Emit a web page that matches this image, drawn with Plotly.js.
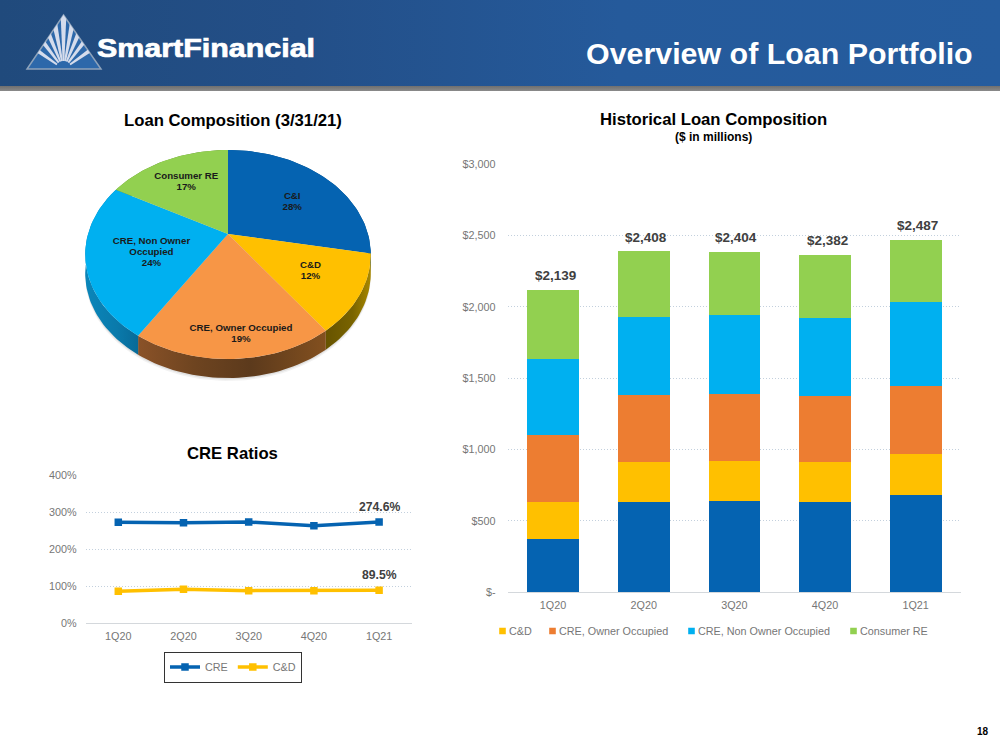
<!DOCTYPE html>
<html><head><meta charset="utf-8">
<script src="https://cdn.plot.ly/plotly-3.0.1.min.js"></script>
<style>
html,body{margin:0;padding:0;background:#fff;overflow:hidden}
#wrap{position:relative;width:1000px;height:750px;font-family:"Liberation Sans",Arial,sans-serif}
#hdr{position:absolute;left:0;top:0;width:1000px;height:86px;background:linear-gradient(90deg,#204a7c 0%,#234f88 30%,#255a9b 62%,#255c9e 100%)}
#bar{position:absolute;left:0;top:86px;width:1000px;height:5px;background:linear-gradient(180deg,#6f6f6f,#8a8a8a)}
#logo{position:absolute;left:0;top:0}
#brand{position:absolute;left:97px;top:32.5px;color:#fff;font:bold 26px "Liberation Sans",Arial,sans-serif;-webkit-text-stroke:.7px #fff;transform-origin:0 0;white-space:nowrap}
#chart{position:absolute;left:0;top:0}
</style></head><body>
<div id="wrap">
<div id="hdr"></div><div id="bar"></div>
<svg id="logo" width="130" height="86">
<defs><clipPath id="tri"><path d="M63.5,15 L101,69 L27,69 Z"/></clipPath></defs>
<path d="M63.5,15 L101,69 L27,69 Z" fill="#2d68aa" stroke="#8ea3bb" stroke-width="1.5"/>
<g clip-path="url(#tri)" fill="#d5dcec" id="rays"></g>
</svg>
<div id="brand">SmartFinancial</div>
<div id="chart"></div>
</div>
<script>
// ---------- data ----------
var pieLabels = ['C&I','C&D','CRE, Owner Occupied','CRE, Non Owner<br>Occupied','Consumer RE'];
var pieValues = [28,12,19,24,17];
var pieColors = ['#0563B1','#FFC000','#F79646','#00B0F0','#92D050'];
var pieWallColors = [
  [[0,'#004a80'],[1,'#004a80']],
  [[0,'#665300'],[0.6,'#7a6400'],[1,'#a88800']],
  [[0,'#8a5228'],[0.3,'#6e4420'],[0.6,'#5c3a1c'],[1,'#83501f']],
  [[0,'#0a86ba'],[0.6,'#0a7aab'],[1,'#086a98']],
  [[0,'#5f8a30'],[1,'#5f8a30']]
];
var pieLabelRadius = [0.59,0.65,0.84,0.56,0.65];
var pieLabelTurn = [5.5,0,-3.5,-5.6,0];

var quarters = ['1Q20','2Q20','3Q20','4Q20','1Q21'];
var candI    = [374,633,640,633,682];
var candD    = [258,280,279,279,287];
var creOwner = [470,468,469,462,476];
var creNon   = [531,547,553,546,588];
var consumer = [486,464,446,446,438];
var totalLabels = ['$2,139','$2,408','$2,404','$2,382','$2,487'];

var creRatio = [273.6,272.7,274.5,264.6,274.6];
var cdRatio  = [86.7,92,88.5,88.5,89.5];
var ratioLabels = ['274.6%','89.5%'];

var FONT = '"Liberation Sans",Arial,sans-serif';
var GRID = '#c3d0dd', TICK = '#767676', AXIS = '#d4d8dc';
function px(x){return x/1000;}
function py(y){return 1-y/750;}

// ---------- logo rays ----------
var raysG = document.getElementById('rays');
[0,-11,11,-23,23,-37,37,-55,55].forEach(function(d){
  var a = d*Math.PI/180, s=Math.sin(a), c=Math.cos(a), w0=0.9, w1=3.2, L=62;
  var bx=63.5+s*8, by=69-c*8;
  var tx=63.5+s*L, ty=69-c*L;
  var p=document.createElementNS('http://www.w3.org/2000/svg','path');
  p.setAttribute('d','M'+(bx-c*w0)+','+(by-s*w0)+' L'+(tx-c*w1)+','+(ty-s*w1)+' L'+(tx+c*w1)+','+(ty+s*w1)+' L'+(bx+c*w0)+','+(by+s*w0)+' Z');
  raysG.appendChild(p);
});

// ---------- pie geometry: circle seen in perspective, from the values ----------
var PERSP=0.196, FLAT=100.5/140, DEPTH=19/140;
function proj(t,r){
  var X=r*Math.sin(t), Y=r*Math.cos(t), d=1+PERSP*Y;
  return [X/d, FLAT*Y/d];
}
var total=pieValues.reduce(function(a,b){return a+b;},0);
var starts=[],acc=0;
pieValues.forEach(function(v){starts.push(acc/total*2*Math.PI);acc+=v;});
starts.push(2*Math.PI);
function arc(t0,t1){var n=Math.max(6,Math.round((t1-t0)/0.03)),o=[];for(var i=0;i<=n;i++)o.push(proj(t0+(t1-t0)*i/n,1));return o;}

var traces=[];
var full=arc(0,2*Math.PI);
// soft shadow
[[DEPTH+3/140,'rgba(0,0,0,0.05)'],[DEPTH+1.5/140,'rgba(0,0,0,0.07)']].forEach(function(s){
  traces.push({type:'scatter',mode:'lines',xaxis:'x3',yaxis:'y3',x:full.map(function(p){return p[0];}),y:full.map(function(p){return p[1]-s[0];}),
    fill:'toself',fillcolor:s[1],line:{width:0},hoverinfo:'skip',showlegend:false});
});
// walls
pieValues.forEach(function(v,i){
  var rim=arc(starts[i],starts[i+1]);
  var xs=rim.map(function(p){return p[0];}), ys=rim.map(function(p){return p[1];});
  var rx=xs.slice().reverse(), ry=ys.slice().reverse().map(function(y){return y-DEPTH;});
  traces.push({type:'scatter',mode:'lines',xaxis:'x3',yaxis:'y3',x:xs.concat(rx),y:ys.concat(ry),fill:'toself',
    fillgradient:{type:'horizontal',colorscale:pieWallColors[i]},line:{width:0},hoverinfo:'skip',showlegend:false});
});
// top faces
pieValues.forEach(function(v,i){
  var rim=arc(starts[i],starts[i+1]);
  traces.push({type:'scatter',mode:'lines',xaxis:'x3',yaxis:'y3',
    x:[0].concat(rim.map(function(p){return p[0];}),[0]),y:[0].concat(rim.map(function(p){return p[1];}),[0]),
    fill:'toself',fillcolor:pieColors[i],line:{width:0},name:pieLabels[i],hoverinfo:'name',showlegend:false});
});
// slice labels
var lp=pieValues.map(function(v,i){return proj((starts[i]+starts[i+1])/2+pieLabelTurn[i]*Math.PI/180,pieLabelRadius[i]);});
traces.push({type:'scatter',mode:'text',xaxis:'x3',yaxis:'y3',x:lp.map(function(p){return p[0];}),y:lp.map(function(p){return p[1];}),
  text:pieLabels.map(function(l,i){return l+'<br>'+pieValues[i]+'%';}),textposition:'middle center',
  textfont:{family:FONT,size:9.7,color:'#1a1a1a',weight:700},hoverinfo:'skip',showlegend:false});

// ---------- stacked bars ----------
var barSeries=[['C&I',candI,'#0563B1',null],['C&D',candD,'#FFC000','legend3'],['CRE, Owner Occupied',creOwner,'#ED7D31','legend4'],
  ['CRE, Non Owner Occupied',creNon,'#00B0F0','legend5'],['Consumer RE',consumer,'#92D050','legend6']];
barSeries.forEach(function(s){
  var t={type:'bar',name:s[0],x:quarters,y:s[1],xaxis:'x',yaxis:'y',marker:{color:s[2]},width:0.57,showlegend:!!s[3]};
  if(s[3])t.legend=s[3];
  traces.push(t);
});
var tops=quarters.map(function(q,i){return candI[i]+candD[i]+creOwner[i]+creNon[i]+consumer[i];});

// ---------- ratio lines ----------
traces.push({type:'scatter',mode:'lines+markers',name:'CRE',x:quarters,y:creRatio,xaxis:'x2',yaxis:'y2',legend:'legend2',
  line:{color:'#0563B1',width:3.5},marker:{color:'#0563B1',size:7.5,symbol:'square'}});
traces.push({type:'scatter',mode:'lines+markers',name:'C&D',x:quarters,y:cdRatio,xaxis:'x2',yaxis:'y2',legend:'legend2',
  line:{color:'#FFC000',width:3.5},marker:{color:'#FFC000',size:7.5,symbol:'square'}});

// ---------- annotations ----------
function note(text,x,y,size,color,bold,anchor){
  return {text:text,xref:'paper',yref:'paper',x:px(x),y:py(y),xanchor:anchor||'center',yanchor:'middle',showarrow:false,
    font:{family:FONT,size:size,color:color,weight:bold?700:400}};
}
var ann=[
  note('Overview of Loan Portfolio',974.5,53,30.4,'#ffffff',true,'right'),
  note('Loan Composition (3/31/21)',232.5,120,16.7,'#000000',true),
  note('Historical Loan Composition',713,119,16.7,'#000000',true),
  note('($ in millions)',713,137,12,'#000000',true),
  note('CRE Ratios',232.5,453.5,16.7,'#000000',true),
  note('18',983,731,10,'#000000',true)
];
totalLabels.forEach(function(l,i){
  ann.push({text:l,x:quarters[i],y:tops[i],xref:'x',yref:'y',xanchor:'center',yanchor:'middle',yshift:14,xshift:2,showarrow:false,
    font:{family:FONT,size:13.5,color:'#404040',weight:700}});
});
ann.push({text:ratioLabels[0],x:quarters[4],y:creRatio[4],xref:'x2',yref:'y2',xanchor:'center',yanchor:'middle',yshift:15,showarrow:false,font:{family:FONT,size:12.2,color:'#404040',weight:700}});
ann.push({text:ratioLabels[1],x:quarters[4],y:cdRatio[4],xref:'x2',yref:'y2',xanchor:'center',yanchor:'middle',yshift:15,showarrow:false,font:{family:FONT,size:12.2,color:'#404040',weight:700}});

// ---------- layout ----------
function catAxis(l,r,anchor,standoff){return {domain:[px(l),px(r)],anchor:anchor,type:'category',range:[-0.5,4.5],showgrid:false,showline:true,linecolor:AXIS,linewidth:1,
  ticks:'outside',ticklen:standoff,tickcolor:'rgba(0,0,0,0)',tickfont:{family:FONT,size:10.8,color:TICK},zeroline:false,fixedrange:true};}
function valAxis(t,b,anchor,range,vals,text,standoff){return {domain:[py(b),py(t)],anchor:anchor,range:range,tickvals:vals,ticktext:text,showgrid:true,gridcolor:GRID,griddash:'1px,2px',gridwidth:1,
  showline:false,zeroline:false,ticks:'outside',ticklen:standoff,tickcolor:'rgba(0,0,0,0)',tickfont:{family:FONT,size:10.8,color:TICK},fixedrange:true};}
function barLegend(x){return {orientation:'h',x:px(x),y:py(631),xanchor:'left',yanchor:'middle',bgcolor:'rgba(0,0,0,0)',borderwidth:0,font:{family:FONT,size:10.8,color:TICK}};}
function fade(axX,axY,v){return {type:'line',xref:axX+' domain',yref:axY,x0:0,x1:1,y0:v,y1:v,line:{color:'rgba(255,255,255,0.7)',width:2}};}

var layout={
  width:1000,height:750,margin:{l:0,r:0,t:0,b:0},paper_bgcolor:'rgba(0,0,0,0)',plot_bgcolor:'rgba(0,0,0,0)',
  barmode:'stack',showlegend:true,hovermode:'closest',
  xaxis:catAxis(507.7,961,'y',3),
  yaxis:valAxis(164.3,592.3,'x',[0,3000],[0,500,1000,1500,2000,2500,3000],['$-','$500','$1,000','$1,500','$2,000','$2,500','$3,000'],9),
  xaxis2:catAxis(85.7,411.7,'y2',3),
  yaxis2:valAxis(475.7,623.3,'x2',[0,400],[0,100,200,300,400],['0%','100%','200%','300%','400%'],6),
  xaxis3:{domain:[px(60),px(396)],range:[-1.2,1.2],visible:false,anchor:'y3',fixedrange:true},
  yaxis3:{domain:[py(400),py(130)],range:[-166/140,104/140],visible:false,anchor:'x3',fixedrange:true},
  legend2:{orientation:'h',x:px(233),y:py(651.5),xanchor:'center',yanchor:'top',bgcolor:'#ffffff',bordercolor:'#333333',borderwidth:1,font:{family:FONT,size:10.8,color:TICK}},
  legend3:barLegend(469),
  legend4:barLegend(519),
  legend5:barLegend(658),
  legend6:barLegend(820),
  shapes:[fade('x','y',3000),fade('x2','y2',400)],
  annotations:ann
};

function polish(){
  document.querySelectorAll('.legendpoints path').forEach(function(p){
    var d=p.getAttribute('d')||'';
    if(/^M6,6H-6V-6H6Z/i.test(d)){
      p.style.transform='translate(33.5px,0px) scale(0.55)';
    }
  });
}
Plotly.newPlot('chart',traces,layout,{displayModeBar:false,responsive:false}).then(function(){
  var b=document.getElementById('brand');
  var w=b.getBoundingClientRect().width;
  b.style.transform='scaleX('+(218/w)+')';
  document.querySelectorAll('.textpoint tspan.line').forEach(function(t){
    var dy=parseFloat(t.getAttribute('dy'));
    if(!isNaN(dy)) t.setAttribute('dy',(dy*0.87)+'em');
  });
  polish();
  setTimeout(polish,0);
  setTimeout(polish,100);
});
</script>
</body></html>
